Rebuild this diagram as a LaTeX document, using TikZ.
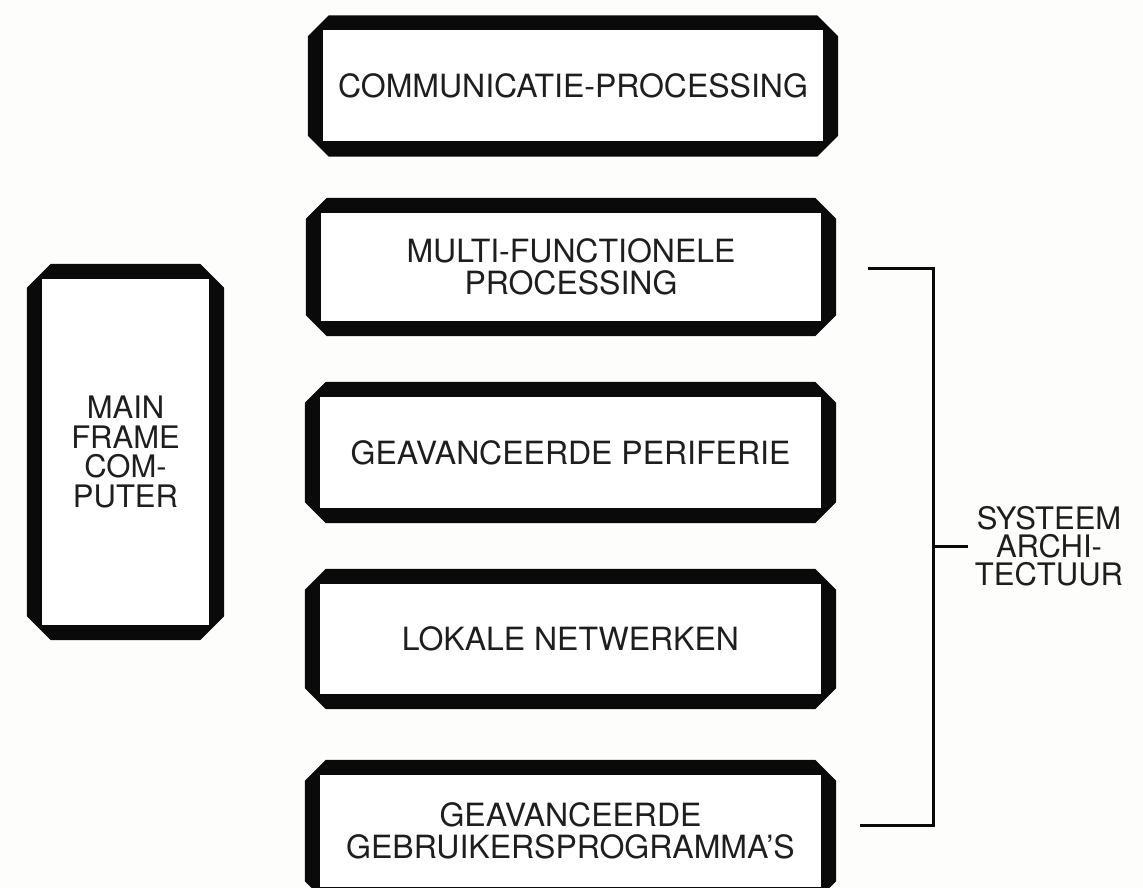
\documentclass[tikz,border=0pt]{standalone}
\usepackage{fontspec}
\setmainfont{TeX Gyre Heros}
\usetikzlibrary{backgrounds}
\definecolor{bg}{HTML}{FDFDFB}
\definecolor{ink}{HTML}{0A0A0A}
\definecolor{txt}{HTML}{1E1E1E}
\tikzset{
  cbox/.style={fill=white, draw=none, inner sep=0pt, align=center, text=txt,
    font=\fontsize{32}{32}\selectfont},
  lbl/.style={inner sep=7pt, align=center, text=txt, font=\fontsize{31}{28}\selectfont},
  brk/.style={draw=ink, line width=3pt, line join=miter}
}
\newcommand{\octframe}[3]{% node, thickness, chamfer
  \fill[ink]
    ([xshift=-#2pt+#3pt, yshift=#2pt]#1.north west) --
    ([xshift=#2pt-#3pt, yshift=#2pt]#1.north east) --
    ([xshift=#2pt, yshift=#2pt-#3pt]#1.north east) --
    ([xshift=#2pt, yshift=-#2pt+#3pt]#1.south east) --
    ([xshift=#2pt-#3pt, yshift=-#2pt]#1.south east) --
    ([xshift=-#2pt+#3pt, yshift=-#2pt]#1.south west) --
    ([xshift=-#2pt, yshift=-#2pt+#3pt]#1.south west) --
    ([xshift=-#2pt, yshift=#2pt-#3pt]#1.north west) -- cycle;}
\begin{document}
\begin{tikzpicture}[x=1pt, y=-1pt]
\useasboundingbox (0,0) rectangle (1143,888);

\node[cbox, minimum width=500pt, minimum height=111pt] (b1) at (573,86) {COMMUNICATIE-PROCESSING};
\node[cbox, minimum width=500pt, minimum height=108pt] (b2) at (571,267) {MULTI-FUNCTIONELE\\PROCESSING};
\node[cbox, minimum width=501pt, minimum height=111pt] (b3) at (570.5,452.5) {GEAVANCEERDE PERIFERIE};
\node[cbox, minimum width=501pt, minimum height=110pt] (b4) at (570.5,639) {LOKALE NETWERKEN};
\node[cbox, minimum width=501pt, minimum height=112pt] (b5) at (570.5,831) {GEAVANCEERDE\\GEBRUIKERSPROGRAMMA'S};
\node[cbox, minimum width=167pt, minimum height=346pt, font=\fontsize{31}{29.5}\selectfont] (mf) at (125.5,452) {MAIN\\FRAME\\COM-\\PUTER};

\begin{scope}[on background layer]
  \fill[bg] (0,0) rectangle (1143,888);
  \foreach \n in {b1,b2,b3,b4,b5} {\octframe{\n}{15}{21}}
  \octframe{mf}{15}{24}
\end{scope}

\node[lbl] (sa) at (1049,546) {SYSTEEM\\ARCHI-\\TECTUUR};

\coordinate (bt) at (868,268);
\coordinate (bm) at (933,546);
\coordinate (bb) at (860,825);
\draw[brk] (bt) -| (bm) |- (bb);
\draw[brk] (bm) -- (sa.west);
\end{tikzpicture}
\end{document}
